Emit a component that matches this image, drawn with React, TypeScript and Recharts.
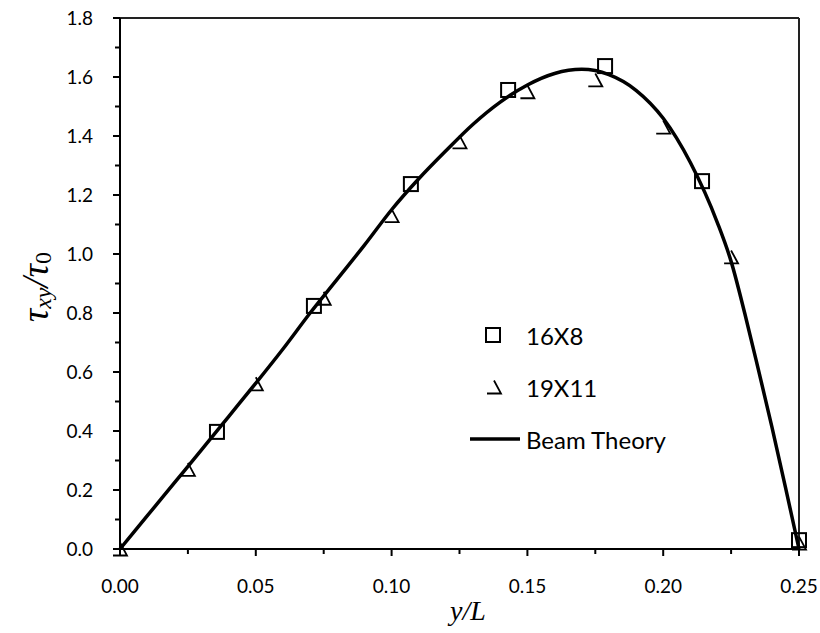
import { ComposedChart, Line, Scatter, XAxis, YAxis, ReferenceLine, Legend } from 'recharts';

// Mesh 16X8 (squares)
const MESH_16X8_X = [0.0357, 0.0714, 0.1071, 0.1429, 0.1786, 0.2143, 0.25];
const MESH_16X8_Y = [0.397, 0.824, 1.237, 1.556, 1.637, 1.247, 0.03];

// Mesh 19X11 (triangles)
const MESH_19X11_X = [0, 0.025, 0.05, 0.075, 0.1, 0.125, 0.15, 0.175, 0.2, 0.225, 0.25];
const MESH_19X11_Y = [0, 0.27, 0.56, 0.85, 1.13, 1.38, 1.55, 1.59, 1.43, 0.99, 0.02];

// Beam theory curve
const BEAM_X = [0, 0.01, 0.02, 0.03, 0.04, 0.05, 0.06, 0.07, 0.08, 0.09, 0.1, 0.11, 0.12, 0.13, 0.14, 0.15,
  0.16, 0.17, 0.18, 0.19, 0.2, 0.21, 0.22, 0.225, 0.23, 0.235, 0.24, 0.245, 0.25];
const BEAM_Y = [0, 0.112, 0.224, 0.336, 0.449, 0.562, 0.678, 0.8, 0.915, 1.03, 1.15, 1.255, 1.35, 1.44, 1.515, 1.573,
  1.612, 1.626, 1.608, 1.555, 1.46, 1.31, 1.105, 0.975, 0.8, 0.61, 0.415, 0.21, 0];

const X_TICKS = [0, 0.025, 0.05, 0.075, 0.1, 0.125, 0.15, 0.175, 0.2, 0.225, 0.25];
const X_LABELS = ['0.00', '', '0.05', '', '0.10', '', '0.15', '', '0.20', '', '0.25'];
const Y_TICKS = [0, 0.1, 0.2, 0.3, 0.4, 0.5, 0.6, 0.7, 0.8, 0.9, 1.0, 1.1, 1.2, 1.3, 1.4, 1.5, 1.6, 1.7, 1.8];

const squares = MESH_16X8_X.map((x, i) => ({ x, y: MESH_16X8_Y[i] }));
const triangles = MESH_19X11_X.map((x, i) => ({ x, y: MESH_19X11_Y[i] }));
const beam = BEAM_X.map((x, i) => ({ x, y: BEAM_Y[i] }));

const TICK_FONT = 'Lato, "Open Sans", sans-serif';
const SERIF = '"Liberation Serif", "DejaVu Serif", serif';

function SquareMark({ cx, cy }: { cx?: number; cy?: number }) {
  if (cx == null || cy == null) return null;
  return <rect x={cx - 7} y={cy - 7} width={14} height={14} fill="none" stroke="#000" strokeWidth={2} />;
}

// triangle without the left edge, as in the original
function TriMark({ cx, cy }: { cx?: number; cy?: number }) {
  if (cx == null || cy == null) return null;
  return (
    <path
      d={`M${cx - 7},${cy + 6.5} L${cx + 7},${cy + 6.5} L${cx},${cy - 6.5}`}
      fill="none"
      stroke="#000"
      strokeWidth={1.8}
    />
  );
}

function XTick(props: any) {
  const { x, y, index } = props;
  const label = X_LABELS[index] ?? '';
  const major = label !== '';
  return (
    <g>
      <line x1={x} x2={x} y1={y} y2={y + (major ? 7 : 5)} stroke="#000" strokeWidth={2} />
      {major && (
        <text x={x} y={y + 44} textAnchor="middle" fontSize={19} fontFamily={TICK_FONT} fill="#000">
          {label}
        </text>
      )}
    </g>
  );
}

function YTick(props: any) {
  const { x, y, payload, index } = props;
  const major = index % 2 === 0;
  return (
    <g>
      <line x1={x - (major ? 7 : 5)} x2={x} y1={y} y2={y} stroke="#000" strokeWidth={2} />
      {major && (
        <text x={x - 27} y={y} dy="0.36em" textAnchor="end" fontSize={19} fontFamily={TICK_FONT} fill="#000">
          {Number(payload.value).toFixed(1)}
        </text>
      )}
    </g>
  );
}

function YLabel() {
  return (
    <text
      x={35}
      y={287}
      transform="rotate(-90, 35, 287)"
      textAnchor="middle"
      dominantBaseline="central"
      fontFamily={SERIF}
      fontStyle="italic"
      fontSize={37}
      fill="#000"
    >
      <tspan>τ</tspan>
      <tspan fontSize={24} dy={8}>xy</tspan>
      <tspan dy={-8}>/τ</tspan>
      <tspan fontSize={24} dy={8} fontStyle="normal">0</tspan>
    </text>
  );
}

function XLabel() {
  return (
    <text x={468} y={620} textAnchor="middle" fontFamily={SERIF} fontStyle="italic" fontSize={28} fill="#000">
      y/L
    </text>
  );
}

function LegendBox() {
  const row = { display: 'flex', alignItems: 'center', height: 52 } as const;
  const txt = { fontFamily: TICK_FONT, fontSize: 24, color: '#000', marginLeft: 3 } as const;
  return (
    <div>
      <div style={row}>
        <svg width={60} height={52}>
          <SquareMark cx={30} cy={26} />
        </svg>
        <span style={txt}>16X8</span>
      </div>
      <div style={row}>
        <svg width={60} height={52}>
          <TriMark cx={31} cy={26} />
        </svg>
        <span style={txt}>19X11</span>
      </div>
      <div style={row}>
        <svg width={60} height={52}>
          <line x1={7} x2={57} y1={26} y2={26} stroke="#000" strokeWidth={3.5} />
        </svg>
        <span style={txt}>Beam Theory</span>
      </div>
    </div>
  );
}

export default function App() {
  return (
    <div style={{ width: 820, height: 633, background: '#fff' }}>
      <style>{`html, body { margin: 0; padding: 0; overflow: hidden; } .recharts-surface { overflow: visible; }`}</style>
      <ComposedChart width={820} height={633} margin={{ top: 18, right: 21, bottom: 0, left: 0 }}>
        <XAxis
          dataKey="x"
          type="number"
          domain={[0, 0.25]}
          ticks={X_TICKS}
          interval={0}
          height={84}
          tickSize={0}
          tickMargin={0}
          tickLine={false}
          axisLine={{ stroke: '#000', strokeWidth: 2 }}
          tick={<XTick />}
          label={XLabel}
        />
        <YAxis
          type="number"
          domain={[0, 1.8]}
          ticks={Y_TICKS}
          interval={0}
          width={120}
          tickSize={0}
          tickMargin={0}
          tickLine={false}
          axisLine={{ stroke: '#000', strokeWidth: 2 }}
          tick={<YTick />}
          label={YLabel}
        />
        <ReferenceLine y={1.8} stroke="#222" strokeWidth={2} />
        <ReferenceLine x={0.25} stroke="#222" strokeWidth={2} />
        <Scatter name="16X8" data={squares} dataKey="y" shape={<SquareMark />} isAnimationActive={false} />
        <Scatter name="19X11" data={triangles} dataKey="y" shape={<TriMark />} isAnimationActive={false} />
        <Line
          name="Beam Theory"
          data={beam}
          dataKey="y"
          type="monotone"
          stroke="#000"
          strokeWidth={3.5}
          dot={false}
          activeDot={false}
          isAnimationActive={false}
        />
        <Legend
          layout="vertical"
          align="center"
          verticalAlign="middle"
          content={<LegendBox />}
          wrapperStyle={{ left: 463, top: 309, width: 260 }}
        />
      </ComposedChart>
    </div>
  );
}
